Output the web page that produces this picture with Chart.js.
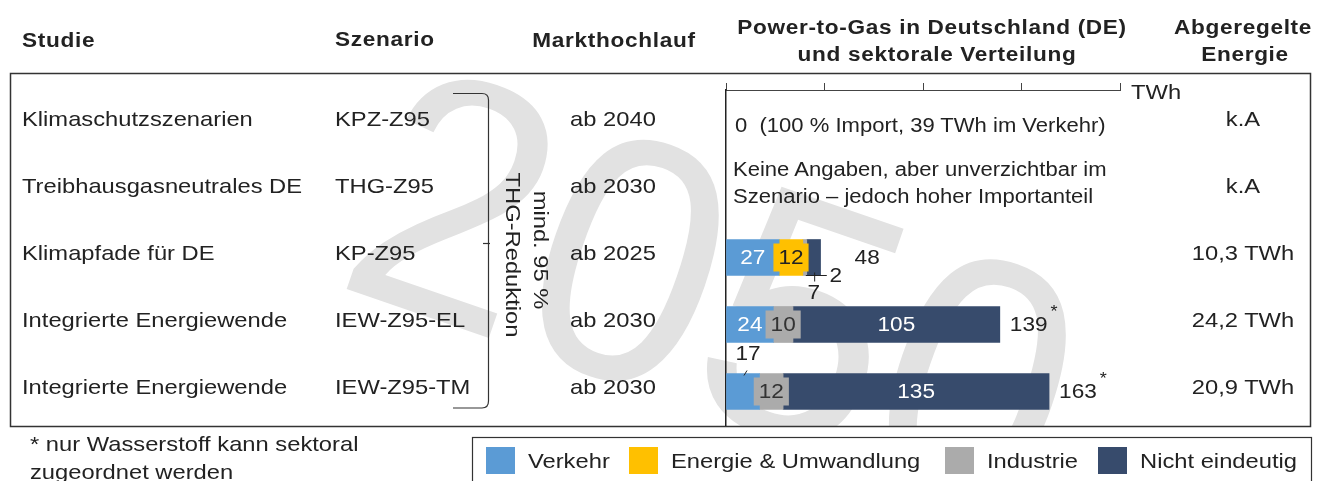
<!DOCTYPE html>
<html lang="de">
<head>
<meta charset="UTF-8">
<title>Power-to-Gas in Deutschland</title>
<style>
  body { margin: 0; background: #fff; font-family: "Liberation Sans", Arial, sans-serif; color: #222; }
  #stage { position: relative; width: 1323px; height: 481px; overflow: hidden; background: #fff; }
  #wm { position: absolute; left: 11px; top: 74px; width: 1299px; height: 352px; overflow: hidden; }
  #wm span { position: absolute; left: 706px; top: 216px; font-size: 330px; line-height: 1; color: #e2e2e2;
             white-space: nowrap; transform: translate(-50%, -50%) rotate(19deg) scaleY(1.05); }
  svg, canvas { position: absolute; left: 0; top: 0; }
  .t { position: absolute; white-space: pre; line-height: 1; font-size: 21px; }
  .b { font-weight: bold; font-size: 20px; letter-spacing: 0.6px; }
  .n { font-size: 19.5px; }
  .sq { position: absolute; width: 29px; height: 27px; }
</style>
</head>
<body>
<div id="stage">
  <div id="wm"><span>2050</span></div>
  <svg width="1323" height="481">
    <rect x="10.5" y="73.5" width="1300" height="353" fill="none" stroke="#333" stroke-width="1.5"/>
    <path d="M453 93.5 H482 Q488.5 93.5 488.5 100 V401 Q488.5 408 482 408 H453" fill="none" stroke="#333" stroke-width="1.2"/>
    <path d="M483 243.5 H490" stroke="#333" stroke-width="1.2"/>
    <rect x="472.5" y="437.5" width="839" height="60" fill="none" stroke="#333" stroke-width="1.2"/>
  </svg>
  <canvas id="chart" width="1323" height="481"></canvas>
</div>

<script src="https://cdn.jsdelivr.net/npm/chart.js"></script>
<script>
    // Daten
    const studien = ['Klimaschutzszenarien', 'Treibhausgasneutrales DE', 'Klimapfade für DE', 'Integrierte Energiewende', 'Integrierte Energiewende'];
    const szenarien = ['KPZ-Z95', 'THG-Z95', 'KP-Z95', 'IEW-Z95-EL', 'IEW-Z95-TM'];
    const markthochlauf = ['ab 2040', 'ab 2030', 'ab 2025', 'ab 2030', 'ab 2030'];
    const abgeregelt = ['k.A', 'k.A', '10,3 TWh', '24,2 TWh', '20,9 TWh'];

    const verkehr = [null, null, 27, 24, 17];
    const energie = [null, null, 12, null, null];
    const industrie = [null, null, 2, 10, 12];
    const nichtEindeutig = [null, null, 7, 105, 135];
    const gesamt = [null, null, 48, 139, 163];
    const sternchen = ['', '', '', '*', '*'];
    const xTicks = [0, 50, 100, 150, 200];

    const hinweise = [
        ['0  (100 % Import, 39 TWh im Verkehr)'],
        ['Keine Angaben, aber unverzichtbar im', 'Szenario – jedoch hoher Importanteil'],
        [], [], []
    ];

    const SX = 1.13; // Schrift etwas breiter
    const FONT = '"Liberation Sans", Arial, sans-serif';
    const farben = ['#5B9BD5', '#FFC000', '#ABABAB', '#374B6C'];
    const textFarben = ['#fff', '#222', '#333', '#fff'];

    // kleine Segmente: Beschriftung außerhalb mit Führungslinie
    const aussen = {
        '2:2': { dx: 31, dy: 19, l: [1, 18, 22, 18] },
        '3:2': { dx: 0, dy: 36, l: [1, 15, 1, 24] },
        '0:4': { dx: 5, dy: -37, l: [1, -16, 4, -21] }
    };
    const summeAbstand = [10, 10, 34, 10, 10];

    function canvasText(ctx, txt, x, y, font, color, align) {
        ctx.save();
        ctx.translate(x, y);
        ctx.scale(SX, 1);
        ctx.font = font;
        ctx.fillStyle = color;
        ctx.textAlign = align || 'center';
        ctx.textBaseline = 'middle';
        ctx.fillText(txt, 0, 0);
        ctx.restore();
    }

    const barLabels = {
        id: 'barLabels',
        afterDatasetsDraw(chart) {
            const ctx = chart.ctx;
            const font = '20px ' + FONT;
            chart.data.datasets.forEach((ds, i) => {
                chart.getDatasetMeta(i).data.forEach((bar, j) => {
                    const v = ds.data[j];
                    if (!v) return;
                    const cx = (bar.x + bar.base) / 2;
                    const out = aussen[i + ':' + j];
                    if (out) {
                        ctx.save();
                        ctx.strokeStyle = '#222';
                        ctx.lineWidth = 1;
                        ctx.beginPath();
                        ctx.moveTo(cx + out.l[0], bar.y + out.l[1]);
                        ctx.lineTo(cx + out.l[2], bar.y + out.l[3]);
                        ctx.stroke();
                        ctx.restore();
                        canvasText(ctx, String(v), cx + out.dx, bar.y + out.dy, font, '#222');
                        return;
                    }
                    ctx.font = font;
                    const w = ctx.measureText(String(v)).width * SX;
                    if (w + 4 > Math.abs(bar.x - bar.base)) {
                        ctx.fillStyle = ds.backgroundColor;
                        ctx.fillRect(cx - w / 2 - 5, bar.y - 14, w + 10, 28);
                    }
                    canvasText(ctx, String(v), cx, bar.y + 1, font, textFarben[i]);
                });
            });
            // Summen
            const last = chart.getDatasetMeta(chart.data.datasets.length - 1).data;
            last.forEach((bar, j) => {
                if (gesamt[j] == null) return;
                const x0 = bar.x + summeAbstand[j];
                ctx.font = font;
                const w = ctx.measureText(String(gesamt[j])).width * SX;
                canvasText(ctx, String(gesamt[j]), x0, bar.y + 1, font, '#222', 'left');
                if (sternchen[j]) canvasText(ctx, sternchen[j], x0 + w + 3, bar.y - 12, '16px ' + FONT, '#222', 'left');
            });
        }
    };

    const chart = new Chart(document.getElementById('chart').getContext('2d'), {
        type: 'bar',
        data: {
            labels: szenarien,
            datasets: [
                { label: 'Verkehr', data: verkehr, backgroundColor: farben[0] },
                { label: 'Energie & Umwandlung', data: energie, backgroundColor: farben[1] },
                { label: 'Industrie', data: industrie, backgroundColor: farben[2] },
                { label: 'Nicht eindeutig', data: nichtEindeutig, backgroundColor: farben[3] }
            ]
        },
        options: {
            indexAxis: 'y',
            responsive: false,
            animation: false,
            layout: { padding: { left: 726, right: 203, top: 83, bottom: 56 } },
            datasets: { bar: { barThickness: 36 } },
            plugins: { legend: { display: false }, tooltip: { enabled: false } },
            scales: {
                x: {
                    position: 'top', stacked: true,
                    min: xTicks[0], max: xTicks[xTicks.length - 1],
                    afterBuildTicks: s => { s.ticks = xTicks.map(v => ({ value: v })); },
                    ticks: { display: false },
                    grid: { drawOnChartArea: false, tickLength: 7, color: '#444', lineWidth: 1 },
                    border: { color: '#444', width: 1 }
                },
                y: {
                    stacked: true,
                    ticks: { display: false },
                    grid: { display: false, drawTicks: false },
                    border: { color: '#222', width: 1.5 }
                }
            }
        },
        plugins: [barLabels]
    });

    // Tabellentexte
    const stage = document.getElementById('stage');
    function put(text, x, y, cls, align, extra) {
        const el = document.createElement('div');
        el.className = 't ' + (cls || '');
        el.textContent = text;
        el.style.left = x + 'px';
        el.style.top = y + 'px';
        const tx = align === 'center' ? '-50%' : (align === 'right' ? '-100%' : '0');
        el.style.transformOrigin = align === 'center' ? 'center' : 'left center';
        el.style.transform = `translate(${tx},-50%) ${extra || ''} scaleX(${SX})`;
        stage.appendChild(el);
        return el;
    }

    put('Studie', 22, 40, 'b', 'left');
    put('Szenario', 335, 39, 'b', 'left');
    put('Markthochlauf', 614, 40, 'b', 'center');
    put('Power-to-Gas in Deutschland (DE)', 932, 27, 'b', 'center');
    put('und sektorale Verteilung', 937, 54, 'b', 'center');
    put('Abgeregelte', 1243, 27, 'b', 'center');
    put('Energie', 1245, 54, 'b', 'center');

    const yScale = chart.scales.y;
    szenarien.forEach((s, j) => {
        const y = yScale.getPixelForValue(j) - 6;
        put(studien[j], 22, y, '', 'left');
        put(s, 335, y, '', 'left');
        put(markthochlauf[j], 613, y, '', 'center');
        put(abgeregelt[j], 1243, y, '', 'center');
        const h = hinweise[j];
        if (h.length === 1) put(h[0], 735, y + 8, 'n', 'left');
        if (h.length === 2) {
            put(h[0], 733, y - 15, 'n', 'left');
            put(h[1], 733, y + 12, 'n', 'left');
        }
    });

    put('mind. 95 %', 541, 250, '', 'center', 'rotate(90deg)');
    put('THG-Reduktion', 513, 255, '', 'center', 'rotate(90deg)');
    put('TWh', 1131, chart.chartArea.top + 1, '', 'left');

    // Legende
    const legX = [486, 629, 945, 1098];
    chart.data.datasets.forEach((ds, i) => {
        const sq = document.createElement('div');
        sq.className = 'sq';
        sq.style.left = legX[i] + 'px';
        sq.style.top = '447px';
        sq.style.background = ds.backgroundColor;
        stage.appendChild(sq);
        put(ds.label, legX[i] + 42, 460, '', 'left');
    });

    put('* nur Wasserstoff kann sektoral', 30, 443, '', 'left');
    put('zugeordnet werden', 30, 471, '', 'left');
</script>
</body>
</html>
